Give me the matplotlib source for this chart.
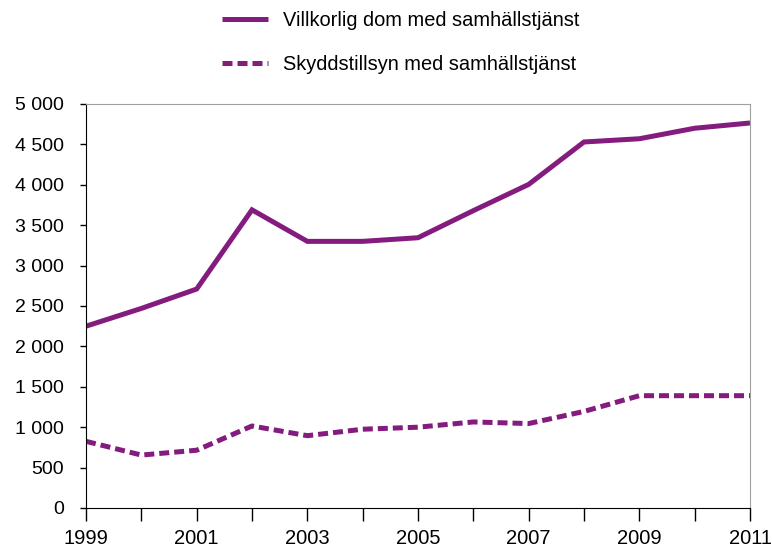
import matplotlib
matplotlib.use("Agg")
import matplotlib.pyplot as plt
from matplotlib.ticker import FuncFormatter, MultipleLocator

years = [1999, 2000, 2001, 2002, 2003, 2004, 2005, 2006, 2007, 2008, 2009, 2010, 2011]
villkorlig = [2250, 2470, 2710, 3690, 3300, 3300, 3345, 3680, 4005, 4530, 4570, 4700, 4765]
skydd = [825, 655, 715, 1015, 895, 975, 1000, 1065, 1045, 1195, 1390, 1390, 1390]
labels = ["Villkorlig dom med samhällstjänst", "Skyddstillsyn med samhällstjänst"]

color = "#841B7E"
plt.rcParams['font.family'] = ['Liberation Sans', 'DejaVu Sans']

fig = plt.figure(figsize=(7.72, 5.5), dpi=100)
ax = fig.add_axes([86/772, 1 - 508/550, (750-86)/772, (508-104)/550])

l1, = ax.plot(years, villkorlig, color=color, lw=3.6, solid_capstyle='butt', solid_joinstyle='miter')
l2, = ax.plot(years, skydd, color=color, lw=3.6, dashes=(2, 1), dash_capstyle='butt')

ax.set_xlim(1999, 2011)
ax.set_ylim(0, 5000)
ax.yaxis.set_major_locator(MultipleLocator(500))
ax.yaxis.set_major_formatter(FuncFormatter(lambda v, p: f"{int(v):,}".replace(",", " ")))
ax.set_xticks(years)
ax.set_xticklabels([str(y) if (y - 1999) % 2 == 0 else "" for y in years])

for s in ['top', 'right']:
    ax.spines[s].set_color('#a0a0a0')
for s in ['left', 'bottom']:
    ax.spines[s].set_color('black')
ax.tick_params(axis='y', direction='out', length=4, width=1, pad=12, labelsize=14)
ax.tick_params(axis='x', direction='out', length=9, width=1, pad=6, labelsize=14.5)

fig.legend([l1, l2], labels, loc='upper left', bbox_to_anchor=(222/772, 1 - 11/550),
           frameon=False, fontsize=14.4, handlelength=2.3, handletextpad=0.75,
           labelspacing=1.25, borderpad=0, borderaxespad=0)

fig.savefig("out.png", dpi=100)
